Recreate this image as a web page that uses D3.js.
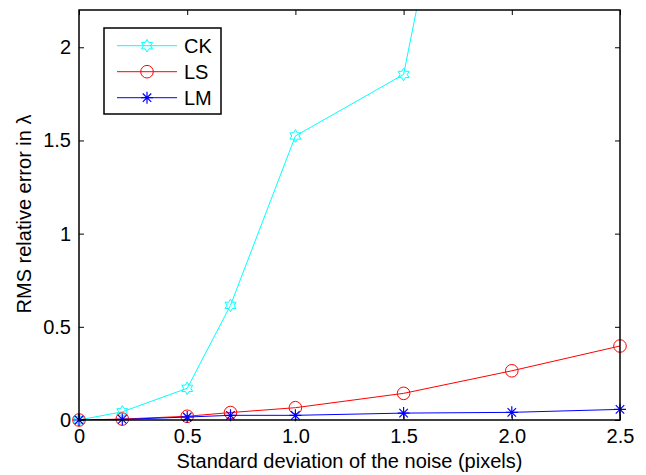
<!DOCTYPE html>
<html>
<head>
<meta charset="utf-8">
<script src="https://cdn.jsdelivr.net/npm/d3@7"></script>
<style>
  body { margin: 0; background: #fff; }
  svg text { font-family: "Liberation Sans", Arial, Helvetica, sans-serif; fill: #000; }
</style>
</head>
<body>
<div id="graf"></div>
<script>
// data
const noise = [0, 0.2, 0.5, 0.7, 1.0, 1.5, 2.0, 2.5]
const ck = [0, 0.044, 0.17, 0.615, 1.524, 1.854, 4.76, 7.5]
const ls = [0, 0.005, 0.02, 0.04, 0.066, 0.143, 0.264, 0.397]
const lm = [0, 0.003, 0.016, 0.025, 0.025, 0.037, 0.041, 0.057]
const seriesNames = ['CK', 'LS', 'LM']
const xTicks = [0, 0.5, 1.0, 1.5, 2.0, 2.5]
const xTickLabels = ['0', '0.5', '1.0', '1.5', '2.0', '2.5']
const yTicks = [0, 0.5, 1, 1.5, 2]
const yTickLabels = ['0', '0.5', '1', '1.5', '2']

const anchoTotal = 646
const altoTotal = 475
const margin = { top: 10, bottom: 55, left: 79, right: 26 }
const ancho = anchoTotal - margin.left - margin.right
const alto = altoTotal - margin.top - margin.bottom

const svg = d3.select('#graf')
  .append('svg')
  .attr('width', anchoTotal)
  .attr('height', altoTotal)

const g = svg.append('g')
  .attr('transform', `translate(${margin.left}, ${margin.top})`)

const x = d3.scaleLinear().domain([0, 2.5]).range([0, ancho])
const y = d3.scaleLinear().domain([0, 2.2]).range([alto, 0])

const colores = { CK: '#00ffff', LS: '#ff0000', LM: '#0000ff' }
const valores = { CK: ck, LS: ls, LM: lm }

svg.append('defs').append('clipPath').attr('id', 'area')
  .append('rect').attr('width', ancho).attr('height', alto)

// axes: ticks inward on all four sides, matlab style
const fs = 20
const xAxis = g.append('g').attr('transform', `translate(0, ${alto})`)
  .call(d3.axisBottom(x).tickValues(xTicks).tickSize(-5).tickPadding(9)
    .tickFormat((d, i) => xTickLabels[i]))
const xTop = g.append('g')
  .call(d3.axisTop(x).tickValues(xTicks).tickSize(-5).tickFormat(''))
const yAxis = g.append('g')
  .call(d3.axisLeft(y).tickValues(yTicks).tickSize(-5).tickPadding(8)
    .tickFormat((d, i) => yTickLabels[i]))
const yRight = g.append('g').attr('transform', `translate(${ancho}, 0)`)
  .call(d3.axisRight(y).tickValues(yTicks).tickSize(-5).tickFormat(''))

;[xAxis, xTop, yAxis, yRight].forEach(a => {
  a.select('.domain').remove()
  a.selectAll('line').attr('stroke', '#000').attr('stroke-width', 1)
  a.selectAll('text').attr('font-size', fs).attr('fill', '#000')
})
xAxis.selectAll('text').attr('dy', '0.72em')

// marker shapes
function hexagram(R) {
  const r = R / Math.sqrt(3)
  const pts = d3.range(12).map(k => {
    const ang = -Math.PI / 2 + k * Math.PI / 6
    const rr = k % 2 === 0 ? R : r
    return [rr * Math.cos(ang), rr * Math.sin(ang)]
  })
  return 'M' + pts.map(p => p.join(',')).join('L') + 'Z'
}
function asterisco(R) {
  const d = R * Math.SQRT1_2
  return `M${-R},0L${R},0M0,${-R}L0,${R}M${-d},${-d}L${d},${d}M${-d},${d}L${d},${-d}`
}
function marca(sel, nombre) {
  const c = colores[nombre]
  if (nombre === 'CK') {
    sel.append('path').attr('d', hexagram(6.3)).attr('fill', 'none')
      .attr('stroke', c).attr('stroke-width', 1)
  } else if (nombre === 'LS') {
    sel.append('circle').attr('r', 6.3).attr('fill', 'none')
      .attr('stroke', c).attr('stroke-width', 1)
  } else {
    sel.append('path').attr('d', asterisco(6)).attr('fill', 'none')
      .attr('stroke', c).attr('stroke-width', 1.2)
  }
}

const linea = d3.line().x(d => x(d[0])).y(d => y(d[1]))

seriesNames.forEach(nombre => {
  const datos = noise.map((n, i) => [n, valores[nombre][i]])
  g.append('path')
    .datum(datos)
    .attr('clip-path', 'url(#area)')
    .attr('d', linea)
    .attr('fill', 'none')
    .attr('stroke', colores[nombre])
    .attr('stroke-width', 1)
  g.selectAll(null)
    .data(datos.filter(d => d[1] <= y.domain()[1]))
    .enter()
    .append('g')
    .attr('transform', d => `translate(${x(d[0])}, ${y(d[1])})`)
    .each(function () { marca(d3.select(this), nombre) })
})

// frame
g.append('rect')
  .attr('width', ancho).attr('height', alto)
  .attr('fill', 'none').attr('stroke', '#000').attr('stroke-width', 1.5)

// legend
const leg = g.append('g').attr('transform', `translate(${104 - margin.left}, ${28 - margin.top})`)
leg.append('rect').attr('width', 117).attr('height', 86)
  .attr('fill', '#fff').attr('stroke', '#000').attr('stroke-width', 1.5)
seriesNames.forEach((nombre, i) => {
  const fila = leg.append('g').attr('transform', `translate(0, ${17.7 + i * 26})`)
  fila.append('line').attr('x1', 13).attr('x2', 73)
    .attr('stroke', colores[nombre]).attr('stroke-width', 1)
  marca(fila.append('g').attr('transform', 'translate(43, 0)'), nombre)
  fila.append('text').attr('x', 80).attr('dy', '0.36em')
    .attr('font-size', fs).text(nombre)
})

// axis titles
svg.append('text')
  .attr('x', margin.left + ancho / 2).attr('y', 468)
  .attr('text-anchor', 'middle').attr('font-size', fs)
  .text('Standard deviation of the noise (pixels)')
svg.append('text')
  .attr('transform', 'translate(31, 214) rotate(-90)')
  .attr('text-anchor', 'middle').attr('font-size', fs)
  .text('RMS relative error in λ')
</script>
</body>
</html>
